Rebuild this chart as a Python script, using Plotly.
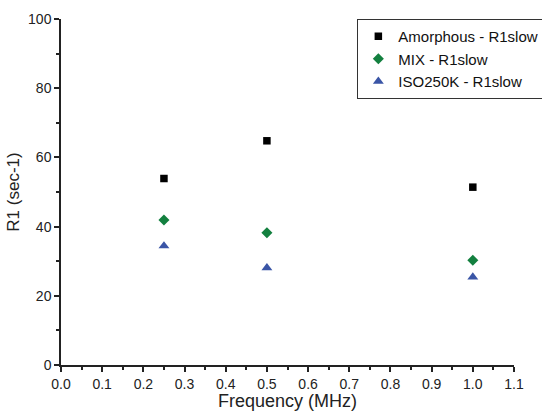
import plotly.graph_objects as go

freq = [0.25, 0.5, 1.0]
amorphous = [53.9, 64.8, 51.4]
mix = [41.9, 38.2, 30.3]
iso250k = [34.4, 28.1, 25.4]

series = [
    ("Amorphous - R1slow", amorphous, "square", "#000000", 7.5),
    ("MIX - R1slow", mix, "diamond", "#13803f", 8.5),
    ("ISO250K - R1slow", iso250k, "triangle-up", "#3a55a6", 9.5),
]

FONT = "Liberation Sans, Arial"

fig = go.Figure()
for name, vals, sym, col, sz in series:
    fig.add_trace(go.Scatter(x=freq, y=vals, mode="markers", name=name, cliponaxis=False,
                             marker=dict(symbol=sym, color=col, size=sz, line=dict(width=0))))

axis_common = dict(showgrid=False, zeroline=False, showline=True, linecolor="#222222", linewidth=1.5,
                   ticks="outside", tickcolor="#222222", ticklen=5, tickwidth=1.5, automargin=False,
                   tickfont=dict(family=FONT, size=14, color="#222222"))

fig.update_layout(
    width=542, height=411,
    margin=dict(l=61, r=28, t=19, b=46, autoexpand=False),
    paper_bgcolor="white", plot_bgcolor="white",
    showlegend=True,
    legend=dict(x=1.067, y=1.0, xanchor="right", yanchor="top", bordercolor="#333333", borderwidth=1,
                font=dict(family=FONT, size=15, color="#111111"),
                bgcolor="white", tracegroupgap=0),
    xaxis=dict(range=[0, 1.1], dtick=0.1, tickformat=".1f",
               minor=dict(dtick=0.05, ticks="outside", ticklen=3, tickcolor="#222222"),
               title=dict(text="Frequency (MHz)", font=dict(family=FONT, size=18, color="#222222"), standoff=2),
               **axis_common),
    yaxis=dict(range=[0, 100], dtick=20,
               minor=dict(dtick=10, ticks="outside", ticklen=3, tickcolor="#222222"),
               title=dict(text="R1 (sec-1)", font=dict(family=FONT, size=17, color="#222222"), standoff=4),
               **axis_common),
)

fig.write_html("out.html")
